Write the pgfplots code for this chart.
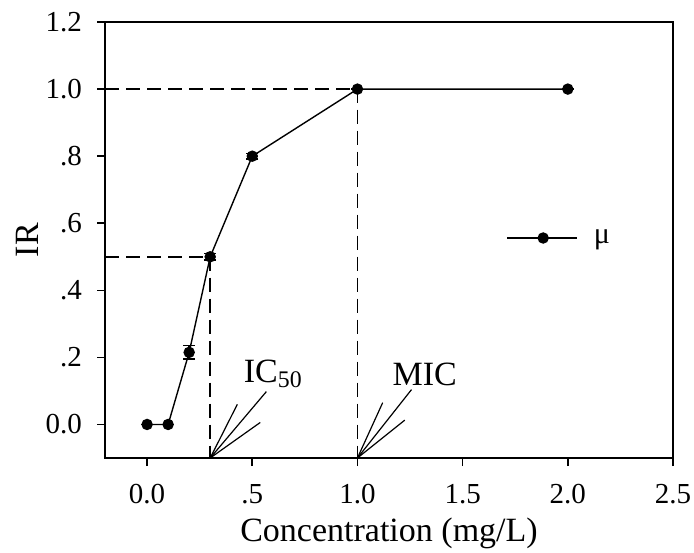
\documentclass[border=0pt]{standalone}
\usepackage{fontspec}
\setmainfont{Liberation Serif}
\usepackage{pgfplots}
\pgfplotsset{compat=1.18}
\begin{document}
\begin{tikzpicture}
\begin{axis}[
    scale only axis,
    width=284pt, height=218pt,
    xmin=-0.2, xmax=2.5,
    ymin=-0.1, ymax=1.2,
    axis line style={line width=1pt},
    xtick={0,0.5,1,1.5,2,2.5},
    xticklabels={0.0,.5,1.0,1.5,2.0,2.5},
    ytick={0,0.2,0.4,0.6,0.8,1.0,1.2},
    yticklabels={0.0,.2,.4,.6,.8,1.0,1.2},
    xtick pos=bottom, ytick pos=left,
    tick align=outside,
    major tick length=4pt,
    tick style={black, line width=0.8pt},
    tick label style={font=\fontsize{14.5}{17}\selectfont},
    xticklabel style={yshift=-5.5pt},
    yticklabel style={xshift=-4pt},
    label style={font=\fontsize{17}{20}\selectfont},
    xlabel={Concentration (mg/L)},
    ylabel={IR},
    xlabel style={at={(axis description cs:0.5,-0.192)}, anchor=base},
    ylabel style={at={(axis description cs:-0.137,0.5)}, anchor=center},
    legend style={at={(axis cs:1.678,0.556)}, anchor=west, draw=none, fill=none,
        font=\fontsize{15}{18}\selectfont},
    legend image code/.code={
        \draw[black, line width=0.7pt] (0pt,0pt) -- (35pt,0pt);
        \fill[black] (18pt,0pt) circle (2.5pt);
    },
]
% dashed guide lines
\addplot[black, line width=0.9pt, dash pattern=on 7pt off 3.5pt, forget plot]
    coordinates {(-0.2,1.0) (1.0,1.0) (1.0,-0.1)};
\addplot[black, line width=0.9pt, dash pattern=on 7pt off 3.5pt, forget plot]
    coordinates {(-0.2,0.5) (0.3,0.5) (0.3,-0.1)};
% IC50 arrow
\addplot[black, line width=0.6pt, forget plot] coordinates {(0.567,0.098) (0.3,-0.1)};
\addplot[black, line width=0.6pt, forget plot] coordinates {(0.429,0.06) (0.3,-0.1) (0.538,0.006)};
% MIC arrow
\addplot[black, line width=0.6pt, forget plot] coordinates {(1.257,0.104) (1.0,-0.1)};
\addplot[black, line width=0.6pt, forget plot] coordinates {(1.12,0.065) (1.0,-0.1) (1.225,0.013)};
% data
\addplot[black, line width=0.7pt, mark=*, mark size=2.5pt,
    error bars/.cd, y dir=both, y explicit,
    error bar style={line width=0.7pt},
    error mark options={rotate=90, mark size=3pt, line width=0.7pt}]
    coordinates {
    (0,0) +- (0,0)
    (0.1,0) +- (0,0)
    (0.2,0.215) +- (0,0.02)
    (0.3,0.5) +- (0,0.01)
    (0.5,0.8) +- (0,0.008)
    (1.0,1.0) +- (0,0)
    (2.0,1.0) +- (0,0)
    };
\addlegendentry{\hspace{6pt}μ}
\node[font=\fontsize{17}{20}\selectfont] at (axis cs:0.6,0.15) {IC\textsubscript{50}};
\node[font=\fontsize{17}{20}\selectfont] at (axis cs:1.32,0.15) {MIC};
\coordinate (bl) at (rel axis cs:-0.1849,-0.2179);
\coordinate (tr) at (rel axis cs:1.0370,1.0505);
\end{axis}
\pgfresetboundingbox
\path[use as bounding box] (bl) rectangle (tr);
\end{tikzpicture}
\end{document}
